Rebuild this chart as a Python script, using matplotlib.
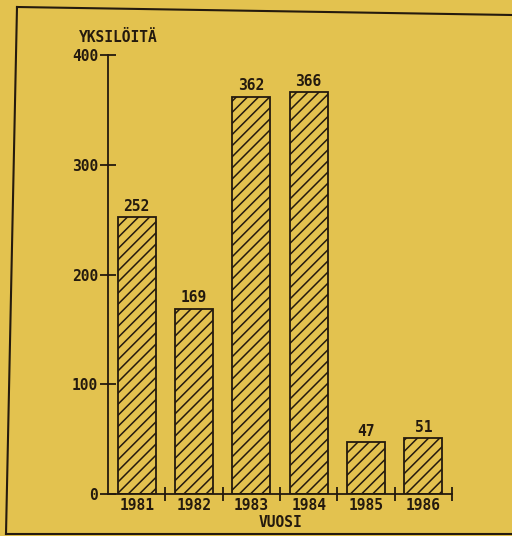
import matplotlib.pyplot as plt
import matplotlib.lines as mlines
import numpy as np

years = ['1981', '1982', '1983', '1984', '1985', '1986']
counts = [252, 169, 362, 366, 47, 51]
yticks = [0, 100, 200, 300, 400]

paper = '#e3c24f'
ink = '#241a0e'
font = {'family': 'DejaVu Sans Mono', 'weight': 'bold', 'color': ink}
fs = 10.5

plt.rcParams['hatch.linewidth'] = 1.1

fig = plt.figure(figsize=(5.12, 5.36), dpi=100)
fig.patch.set_facecolor(paper)
ax = fig.add_axes([108 / 512, 1 - 494 / 536, 344 / 512, 439 / 536])
ax.set_facecolor('none')

x = np.arange(len(years))
bars = ax.bar(x, counts, width=0.66, facecolor='none', edgecolor=ink,
              linewidth=1.3, hatch='///')
for b, v in zip(bars, counts):
    ax.text(b.get_x() + b.get_width() / 2, v + 3, str(v), ha='center',
            va='bottom', fontsize=fs, **font)

ax.set_xlim(-0.5, 5.5)
ax.set_ylim(0, 400)
ax.spines[['top', 'right']].set_visible(False)
for s in ['left', 'bottom']:
    ax.spines[s].set_color(ink)
    ax.spines[s].set_linewidth(1.3)

ax.set_yticks(yticks)
ax.set_yticklabels([str(t) for t in yticks], fontsize=fs, **font)
ax.tick_params(axis='y', direction='inout', length=12, width=1.3,
               color=ink, pad=1)

# year labels centred under bars, tick marks between categories
ax.set_xticks(x)
ax.set_xticklabels(years, fontsize=fs, **font)
ax.tick_params(axis='x', which='major', length=0, pad=3)
ax.set_xticks(np.arange(0.5, 6, 1), minor=True)
ax.tick_params(axis='x', which='minor', direction='inout', length=10,
               width=1.3, color=ink)

# axis titles placed where the printout has them
fig.text(280 / 512, 1 - 527 / 536, 'VUOSI', ha='center',
         va='baseline', fontsize=fs, **font)
fig.text(79 / 512, 1 - 37 / 536, 'YKSILÖITÄ', ha='left', va='center',
         fontsize=fs, **font)

# the printed frame around the chart
for xs, ys in [([17, 512], [7, 15]), ([17, 6], [7, 534]), ([6, 512], [534, 534])]:
    fig.add_artist(mlines.Line2D([v / 512 for v in xs],
                                 [1 - v / 536 for v in ys],
                                 color=ink, linewidth=1.5))

fig.savefig('out.png', dpi=100, facecolor=paper)
